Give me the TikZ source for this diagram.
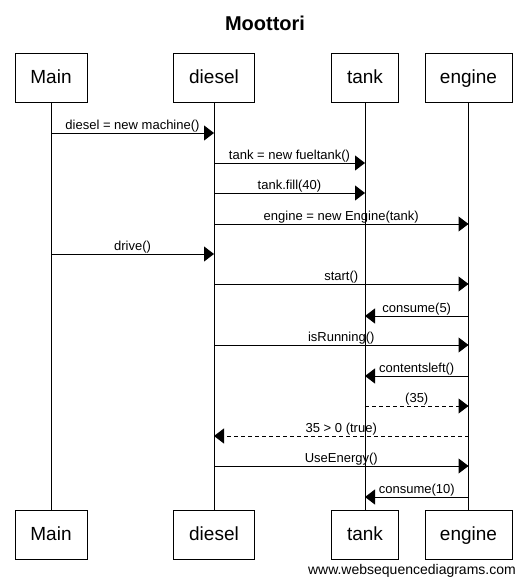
\documentclass[tikz,border=0pt]{standalone}
\usepackage{fontspec}
\setmainfont{Liberation Sans}
\usetikzlibrary{arrows.meta}
\begin{document}
\begin{tikzpicture}[x=1pt,y=-1pt,
  actor/.style={draw, line width=1pt, minimum height=49pt, inner sep=0pt,
    text height=13.6pt, text depth=3pt, font=\fontsize{19}{22}\selectfont},
  life/.style={line width=1pt},
  msg/.style={line width=1pt, -{Triangle[length=10pt,width=15pt]}},
  ret/.style={msg, dash pattern=on 4pt off 3pt},
  lbl/.style={midway, anchor=base, yshift=4pt, inner sep=0pt, font=\fontsize{13}{15}\selectfont}]
\useasboundingbox (0,0) rectangle (528,583);
\node[font=\bfseries\fontsize{20}{24}\selectfont] (title) at (265,23) {Moottori};
% top participants
\node[actor, minimum width=72pt] (mainT) at (51,78.5) {Main};
\node[actor, minimum width=81pt] (diesT) at (214,78.5) {diesel};
\node[actor, minimum width=67pt] (tankT) at (365,78.5) {tank};
\node[actor, minimum width=87pt] (engT)  at (468.5,78.5) {engine};
% bottom participants
\node[actor, minimum width=72pt] (mainB) at (51,535) {Main};
\node[actor, minimum width=81pt] (diesB) at (214,535) {diesel};
\node[actor, minimum width=67pt] (tankB) at (365,535) {tank};
\node[actor, minimum width=87pt] (engB)  at (468.5,535) {engine};
% lifelines
\draw[life] (mainT) -- (mainB);
\draw[life] (diesT) -- (diesB);
\draw[life] (tankT) -- (tankB);
\draw[life] (engT) -- (engB);
% messages
\draw[msg] (mainT.south |- 0,133) -- (diesT.south |- 0,133) node[lbl] {diesel = new machine()};
\draw[msg] (diesT.south |- 0,163) -- (tankT.south |- 0,163) node[lbl] {tank = new fueltank()};
\draw[msg] (diesT.south |- 0,193) -- (tankT.south |- 0,193) node[lbl] {tank.fill(40)};
\draw[msg] (diesT.south |- 0,224) -- (engT.south |- 0,224) node[lbl] {engine = new Engine(tank)};
\draw[msg] (mainT.south |- 0,254) -- (diesT.south |- 0,254) node[lbl] {drive()};
\draw[msg] (diesT.south |- 0,284) -- (engT.south |- 0,284) node[lbl] {start()};
\draw[msg] (engT.south |- 0,316) -- (tankT.south |- 0,316) node[lbl] {consume(5)};
\draw[msg] (diesT.south |- 0,345) -- (engT.south |- 0,345) node[lbl] {isRunning()};
\draw[msg] (engT.south |- 0,376) -- (tankT.south |- 0,376) node[lbl] {contentsleft()};
\draw[ret] (tankT.south |- 0,406) -- (engT.south |- 0,406) node[lbl] {(35)};
\draw[ret] (engT.south |- 0,436) -- (diesT.south |- 0,436) node[lbl] {35 > 0 (true)};
\draw[msg] (diesT.south |- 0,466) -- (engT.south |- 0,466) node[lbl] {UseEnergy()};
\draw[msg] (engT.south |- 0,497) -- (tankT.south |- 0,497) node[lbl] {consume(10)};
% watermark
\node[anchor=base east, inner sep=0pt, font=\fontsize{14}{16}\selectfont] (wm) at (516,574) {www.websequencediagrams.com};
\end{tikzpicture}
\end{document}
